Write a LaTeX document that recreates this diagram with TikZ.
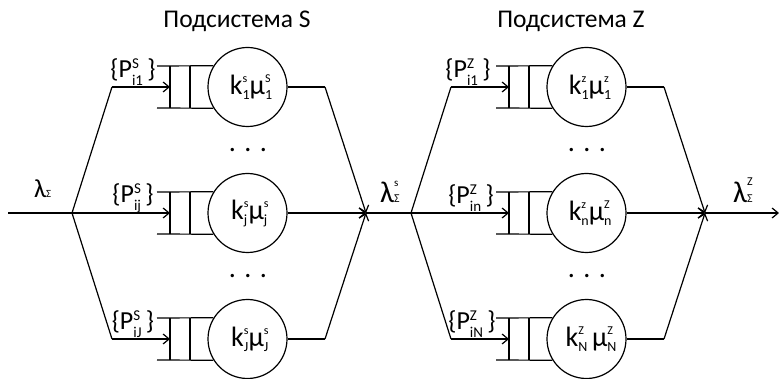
\documentclass[tikz,border=0pt]{standalone}
\usepackage{fontspec}
\setmainfont{Carlito}
\usetikzlibrary{arrows.meta,calc}
\newcommand\stk[6]{%
  \setbox0=\hbox{\fontsize{#1}{#1}\selectfont #3}%
  \setbox2=\hbox{\fontsize{#4}{#4}\selectfont #6}%
  \ifdim\wd0>\wd2 \dimen0=\wd0 \else \dimen0=\wd2 \fi
  \rlap{\raise#2\box0}\rlap{\lower#5\box2}\hskip\dimen0\relax}
\newcommand\cst[2]{\stk{12}{12pt}{#1}{14}{5pt}{#2}}
\newcommand\pst[2]{\stk{15}{9pt}{#1}{15}{8pt}{#2}}
\tikzset{
  ln/.style={line width=1.2pt},
  arr/.style={ln,-{Straight Barb[length=6pt,width=10pt,line width=1.2pt]}},
  server/.style={circle,draw,line width=1.2pt,minimum size=79pt,inner sep=0pt},
  srvtext/.style={font=\fontsize{28}{28}\selectfont,inner sep=0pt},
  plabel/.style={font=\fontsize{26}{26}\selectfont,inner sep=0pt},
  title/.style={font=\fontsize{25.5}{25.5}\selectfont,inner sep=0pt,anchor=base},
  dotsnode/.style={font=\fontsize{28}{28}\selectfont,inner sep=0pt},
  lam/.style={inner sep=0pt,anchor=base west}
}
\begin{document}
\begin{tikzpicture}[x=1pt,y=-1pt]
\useasboundingbox (0,0) rectangle (779,379);
% titles
\node[title] (tS) at (237,28) {Подсистема S};
\node[title] (tZ) at (571,28) {Подсистема Z};
% lambda labels
\node[lam] (l0) at (34,198) {\fontsize{26}{26}\selectfont λ\fontsize{11}{11}\selectfont Σ};
\node[lam] (l1) at (380,203) {\fontsize{30}{30}\selectfont λ\stk{11}{16pt}{s}{12}{0pt}{Σ}};
\node[lam] (l2) at (733,203) {\fontsize{30}{30}\selectfont λ\stk{12}{17pt}{Z}{12}{0pt}{Σ}};
% input / output ends
\coordinate (in) at (8,213);
\coordinate (out) at (779,213);
\foreach \ox/\L in {0/S,339/Z}{
  \coordinate (split\L) at (72+\ox,213);
  \coordinate (merge\L) at (366+\ox,213);
  \coordinate (a\L1) at (112+\ox,87);
  \coordinate (a\L3) at (112+\ox,339);
  \coordinate (b\L1) at (325+\ox,87);
  \coordinate (b\L3) at (325+\ox,339);
  \foreach \r/\y in {1/87,2/213,3/339}{
    \node[server] (c\L\r) at (247.5+\ox,\y) {};
    \coordinate (q\L\r) at (170+\ox,\y);
    \draw[ln] (157+\ox,\y-21) -- (c\L\r.148);
    \draw[ln] (157+\ox,\y+21) -- (c\L\r.212);
    \draw[ln] (170+\ox,\y-21) -- (170+\ox,\y+21);
    \draw[ln] (190+\ox,\y-21) -- (190+\ox,\y+21);
  }
  \node[dotsnode] (d\L1) at (248+\ox,150) {. . .};
  \node[dotsnode] (d\L2) at (248+\ox,276) {. . .};
  % split connectors
  \draw[ln] (split\L) -- (a\L1);
  \draw[ln] (split\L) -- (a\L3);
  \draw[arr] (a\L1) -- (q\L1);
  \draw[arr] (split\L) -- (q\L2);
  \draw[arr] (a\L3) -- (q\L3);
  % merge connectors
  \draw[ln] (c\L1.east) -- (b\L1);
  \draw[ln] (c\L3.east) -- (b\L3);
  \draw[arr] (b\L1) -- (merge\L);
  \draw[arr] (c\L2.east) -- (merge\L);
  \draw[arr] (b\L3) -- (merge\L);
}
\draw[ln] (in) -- (splitS);
\draw[ln] (mergeS) -- (splitZ);
\draw[arr] (mergeZ) -- (out);
% circle labels
\node[srvtext] (kS1) at (cS1) {k\cst{s}{1}μ\cst{S}{1}};
\node[srvtext] (kS2) at (cS2) {k\cst{s}{j}μ\cst{s}{j}};
\node[srvtext] (kS3) at (cS3) {k\cst{s}{J}μ\cst{s}{J}};
\node[srvtext] (kZ1) at (cZ1) {k\cst{z}{1}μ\cst{z}{1}};
\node[srvtext] (kZ2) at (cZ2) {k\cst{z}{n}μ\cst{Z}{n}};
\node[srvtext] (kZ3) at (cZ3) {k\cst{Z}{N}\,μ\cst{Z}{N}};
% probability labels
\node[plabel] (pS1) at (133,72) {\{P\pst{S}{i1}\,\}};
\node[plabel] (pS2) at (133,198) {\{P\pst{S}{ij}\,\}};
\node[plabel] (pS3) at (133,324) {\{P\pst{S}{iJ}\,\}};
\node[plabel] (pZ1) at (468,72) {\{P\pst{Z}{i1}\,\}};
\node[plabel] (pZ2) at (471,198) {\{P\pst{Z}{in}\,\}};
\node[plabel] (pZ3) at (472,324) {\{P\pst{Z}{iN}\,\}};
\end{tikzpicture}
\end{document}
